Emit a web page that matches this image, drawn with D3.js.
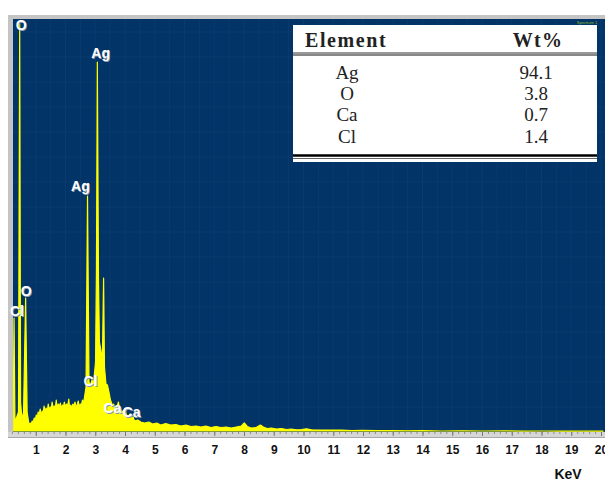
<!DOCTYPE html>
<html>
<head>
<meta charset="utf-8">
<script src="https://cdnjs.cloudflare.com/ajax/libs/d3/7.8.5/d3.min.js"></script>
<style>
  html, body { margin: 0; padding: 0; background: #fff; }
  svg { display: block; }
  .tick text { font-family: Arial, "Liberation Sans", sans-serif; font-weight: bold; }
</style>
</head>
<body>
<svg id="chart" width="605" height="481"></svg>
<script>
// EDS spectrum: energy (keV) and counts
var energy = [0.24, 0.27, 0.30, 0.35, 0.42, 0.46, 0.49, 0.54, 0.59, 0.66, 0.71,
  0.78, 0.81, 0.84, 0.88, 0.91, 0.95, 0.98, 1.02, 1.05, 1.08, 1.11, 1.15, 1.18, 1.22,
  1.25, 1.28, 1.32, 1.35, 1.39, 1.42, 1.45, 1.49, 1.52, 1.55, 1.59, 1.62, 1.66, 1.69,
  1.72, 1.76, 1.79, 1.83, 1.86, 1.90, 1.93, 1.96, 2.00, 2.03, 2.06, 2.09, 2.11, 2.14,
  2.18, 2.21, 2.25, 2.28, 2.32, 2.36, 2.39, 2.43, 2.46, 2.50, 2.53, 2.57, 2.60, 2.64,
  2.69, 2.74, 2.79, 2.84, 2.89, 2.94, 3.01, 3.04, 3.07, 3.11, 3.14, 3.19, 3.24, 3.28,
  3.31, 3.36, 3.41, 3.46, 3.51, 3.55, 3.58, 3.62, 3.65, 3.72, 3.78, 3.82, 3.85, 3.92,
  3.99, 4.05, 4.12, 4.17, 4.22, 4.27, 4.32, 4.43, 4.53, 4.66, 4.80, 4.93, 5.07, 5.20,
  5.37, 5.54, 5.71, 5.88, 6.05, 6.22, 6.39, 6.55, 6.72, 6.89, 7.06, 7.23, 7.40, 7.57,
  7.74, 7.91, 8.01, 8.11, 8.24, 8.41, 8.55, 8.65, 8.78, 8.92, 9.09, 9.26, 9.43, 9.59,
  9.76, 9.93, 10.10, 10.27, 10.61, 10.95, 11.28, 11.62, 11.96, 12.47, 12.97, 13.48,
  13.99, 14.66, 15.34, 16.01, 16.69, 17.36, 18.04, 18.72, 19.39, 20.07];
var counts = [40, 1140, 120, 140, 200, 4080, 300, 120, 200, 1340, 200,
  60, 90, 70, 110, 90, 140, 120, 170, 140, 200, 170, 230, 160, 210,
  190, 260, 200, 240, 210, 280, 220, 250, 230, 300, 230, 260, 250, 320,
  240, 280, 250, 290, 230, 270, 250, 300, 240, 280, 250, 290, 330, 240,
  270, 230, 280, 250, 300, 240, 270, 310, 250, 280, 260, 320, 280, 350,
  450, 2360, 500, 460, 520, 480, 700, 1600, 3700, 1500, 900, 820, 700, 1540,
  650, 480, 470, 400, 320, 290, 250, 280, 220, 240, 300, 210, 230, 200,
  230, 170, 160, 180, 140, 150, 110, 120, 100, 90, 100, 80, 90, 70,
  85, 70, 75, 60, 70, 55, 60, 50, 60, 45, 55, 45, 50, 40,
  50, 60, 90, 55, 40, 45, 70, 50, 35, 40, 30, 35, 25, 30,
  22, 25, 32, 22, 20, 18, 20, 15, 17, 14, 15, 12,
  13, 10, 12, 10, 11, 9, 10, 8, 9, 8];

// peak labels and where they sit (keV, counts)
var peakNames = ['O', 'Ag', 'Ag', 'O', 'Cl', 'Cl', 'Ca', 'Ca'];
var peakLabelE = [0.51, 3.18, 2.50, 0.68, 0.37, 2.84, 3.58, 4.22];
var peakLabelC = [4070, 3790, 2460, 1410, 1210, 510, 240, 200];

// quantification table
var tableElements = ['Ag', 'O', 'Ca', 'Cl'];
var tableWt = ['94.1', '3.8', '0.7', '1.4'];

var xTicks = d3.range(1, 21);

var svg = d3.select('#chart');
var plot = { left: 13, top: 19, right: 605, bottom: 432 };

var x = d3.scaleLinear().domain([0, 20]).range([6, 601]);
var y = d3.scaleLinear().domain([0, 4130]).range([plot.bottom, plot.top]);

// grey frame behind the plot
svg.append('rect')
  .attr('x', 8).attr('y', 15)
  .attr('width', 605 - 8).attr('height', 438 - 15)
  .attr('fill', '#c4c4c4');

svg.append('rect')
  .attr('x', plot.left).attr('y', plot.top)
  .attr('width', plot.right - plot.left).attr('height', plot.bottom - plot.top)
  .attr('fill', '#033467');

svg.append('clipPath').attr('id', 'clip')
  .append('rect')
  .attr('x', plot.left).attr('y', plot.top)
  .attr('width', plot.right - plot.left).attr('height', plot.bottom - plot.top);

// faint grid
var grid = svg.append('g').attr('clip-path', 'url(#clip)');
grid.selectAll('line.v')
  .data(d3.range(0.5, 20.5, 0.5))
  .enter().append('line')
  .attr('class', 'v')
  .attr('x1', function(d) { return x(d); })
  .attr('x2', function(d) { return x(d); })
  .attr('y1', plot.top).attr('y2', plot.bottom)
  .attr('stroke', '#0d3f74').attr('stroke-width', 0.6);
grid.selectAll('line.h')
  .data(d3.range(250, 4130, 250))
  .enter().append('line')
  .attr('class', 'h')
  .attr('x1', plot.left).attr('x2', plot.right)
  .attr('y1', function(d) { return y(d); })
  .attr('y2', function(d) { return y(d); })
  .attr('stroke', '#0d3f74').attr('stroke-width', 0.6);

// spectrum
var spectrum = energy.map(function(e, i) { return { e: e, c: counts[i] }; });
var area = d3.area()
  .x(function(d) { return x(d.e); })
  .y0(y(0) - 1)
  .y1(function(d) { return y(d.c); });

svg.append('path')
  .datum(spectrum)
  .attr('clip-path', 'url(#clip)')
  .attr('d', area)
  .attr('fill', '#ffff00')
  .attr('stroke', '#ffff00')
  .attr('stroke-width', 1.2)
  .attr('stroke-linejoin', 'round');

// axis strip
svg.append('rect')
  .attr('x', 8).attr('y', plot.bottom)
  .attr('width', 605 - 8).attr('height', 5)
  .attr('fill', '#d6d6d6');
svg.append('line')
  .attr('x1', 8).attr('x2', 605)
  .attr('y1', 437.5).attr('y2', 437.5)
  .attr('stroke', '#a8a8a8');

var minor = d3.axisBottom(x)
  .tickValues(d3.range(0.2, 20.01, 0.2))
  .tickSize(2)
  .tickFormat('');
svg.append('g')
  .attr('transform', 'translate(0,' + plot.bottom + ')')
  .call(minor)
  .call(function(g) { g.select('.domain').remove(); })
  .selectAll('line').attr('stroke', '#8a8a8a');

var xAxis = d3.axisBottom(x)
  .tickValues(xTicks)
  .tickSize(4)
  .tickPadding(9)
  .tickFormat(d3.format('d'));
var gx = svg.append('g')
  .attr('transform', 'translate(0,' + plot.bottom + ')')
  .call(xAxis);
gx.select('.domain').remove();
gx.selectAll('line').attr('stroke', '#777');
gx.selectAll('text').attr('font-size', 12).attr('fill', '#111');

svg.append('text')
  .attr('x', 568).attr('y', 479)
  .attr('text-anchor', 'middle')
  .attr('font-family', 'Arial, "Liberation Sans", sans-serif')
  .attr('font-weight', 'bold')
  .attr('font-size', 14)
  .attr('fill', '#111')
  .text('KeV');

// peak labels
var labels = svg.append('g')
  .attr('font-family', 'Arial, "Liberation Sans", sans-serif')
  .attr('font-weight', 'bold')
  .attr('font-size', 14)
  .attr('text-anchor', 'middle');
labels.selectAll('text.shadow')
  .data(peakNames)
  .enter().append('text')
  .attr('class', 'shadow')
  .attr('x', function(d, i) { return x(peakLabelE[i]) + 0.8; })
  .attr('y', function(d, i) { return y(peakLabelC[i]) + 5.8; })
  .attr('fill', '#8a9ab0')
  .text(function(d) { return d; });
labels.selectAll('text.lab')
  .data(peakNames)
  .enter().append('text')
  .attr('class', 'lab')
  .attr('x', function(d, i) { return x(peakLabelE[i]); })
  .attr('y', function(d, i) { return y(peakLabelC[i]) + 5; })
  .attr('fill', '#fff')
  .text(function(d) { return d; });

svg.append('text')
  .attr('x', 587).attr('y', 23.5)
  .attr('text-anchor', 'middle')
  .attr('font-family', 'Arial, sans-serif')
  .attr('font-size', 4)
  .attr('fill', '#8fbf1a')
  .text('Spectrum 1');

// table box
var tb = svg.append('g').attr('font-family', '"Liberation Serif", "Times New Roman", serif');
tb.append('rect')
  .attr('x', 293).attr('y', 25)
  .attr('width', 304).attr('height', 137)
  .attr('fill', '#fff');
tb.append('text')
  .attr('x', 305).attr('y', 47)
  .attr('font-weight', 'bold').attr('font-size', 20)
  .attr('letter-spacing', 1.6)
  .attr('fill', '#222')
  .text('Element');
tb.append('text')
  .attr('x', 538).attr('y', 47)
  .attr('text-anchor', 'middle')
  .attr('font-weight', 'bold').attr('font-size', 20)
  .attr('letter-spacing', 1.2)
  .attr('fill', '#222')
  .text('Wt%');
tb.append('line')
  .attr('x1', 293).attr('x2', 597).attr('y1', 53).attr('y2', 53)
  .attr('stroke', '#333').attr('stroke-width', 1);
tb.append('line')
  .attr('x1', 293).attr('x2', 597).attr('y1', 55).attr('y2', 55)
  .attr('stroke', '#888').attr('stroke-width', 2);

var rowY = d3.scalePoint().domain(tableElements).range([72, 136]);
tb.selectAll('text.el')
  .data(tableElements)
  .enter().append('text')
  .attr('class', 'el')
  .attr('x', 347)
  .attr('y', function(d) { return rowY(d) + 6.5; })
  .attr('text-anchor', 'middle')
  .attr('font-size', 19)
  .attr('fill', '#222')
  .text(function(d) { return d; });
tb.selectAll('text.wt')
  .data(tableWt)
  .enter().append('text')
  .attr('class', 'wt')
  .attr('x', 536)
  .attr('y', function(d, i) { return rowY(tableElements[i]) + 6.5; })
  .attr('text-anchor', 'middle')
  .attr('font-size', 19)
  .attr('fill', '#222')
  .text(function(d) { return d; });
tb.append('line')
  .attr('x1', 293).attr('x2', 597).attr('y1', 155.5).attr('y2', 155.5)
  .attr('stroke', '#000').attr('stroke-width', 2.5);
tb.append('line')
  .attr('x1', 293).attr('x2', 597).attr('y1', 158.5).attr('y2', 158.5)
  .attr('stroke', '#666').attr('stroke-width', 1.2);
</script>
</body>
</html>
